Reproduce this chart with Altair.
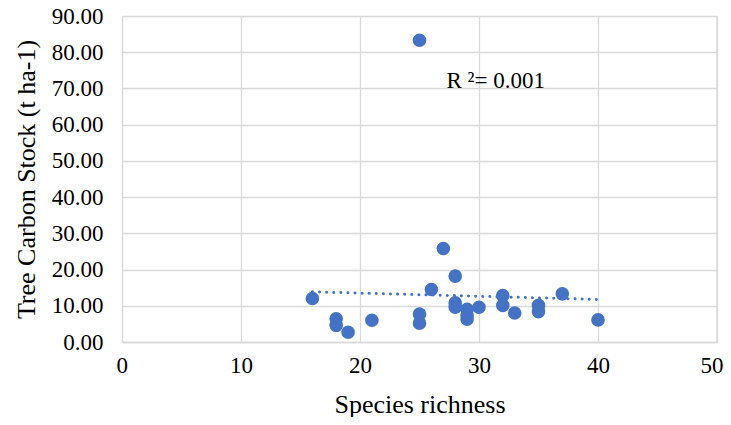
import altair as alt
import pandas as pd

richness = [16, 18, 18, 19, 21, 25, 25, 25, 26, 27, 28, 28, 28, 29, 29, 29, 30, 32, 32, 33, 35, 35, 37, 40]
carbon = [12.0, 6.4, 4.6, 2.7, 6.0, 83.3, 7.7, 5.2, 14.5, 25.8, 18.2, 10.8, 9.6, 9.0, 7.3, 6.3, 9.6, 12.8, 10.1, 8.0, 10.1, 8.4, 13.3, 6.1]

label_text = ["R ²= 0.001"]
label_x = [31.4]
label_y = [72.0]

df = pd.DataFrame({"x": richness, "y": carbon})
lab = pd.DataFrame({"x": label_x, "y": label_y, "t": label_text})

FONT = "Liberation Serif"
BLUE = "#4472C4"

xs = alt.Scale(domain=[0, 50], nice=False, zero=False)
ys = alt.Scale(domain=[0, 90], nice=False, zero=False)

xax = alt.Axis(values=[0, 10, 20, 30, 40, 50], title="Species richness", grid=True,
               gridColor="#D9D9D9", gridWidth=1.3, domainColor="#D9D9D9", domainWidth=1.3,
               ticks=False, labelFont=FONT, labelFontSize=23, labelColor="#000000",
               labelPadding=12, labelOverlap=False, labelFlush=True, labelFlushOffset=6,
               titleFont=FONT, titleFontSize=26, titleFontWeight="normal",
               titleColor="#000000", titlePadding=14)
yax = alt.Axis(values=list(range(0, 91, 10)), format=".2f", title="Tree Carbon Stock (t ha-1)",
               grid=True, gridColor="#D9D9D9", gridWidth=1.3, domain=False, ticks=False,
               labelFont=FONT, labelFontSize=23, labelColor="#000000", labelPadding=19,
               labelOverlap=False, labelFlush=False,
               titleFont=FONT, titleFontSize=26, titleFontWeight="normal", titleColor="#000000",
               titlePadding=12)

X = alt.X("x:Q", scale=xs, axis=xax)
Y = alt.Y("y:Q", scale=ys, axis=yax)

base = alt.Chart(df)

pts = base.mark_circle(size=185, color=BLUE, opacity=1).encode(x=X, y=Y)

trend = base.transform_regression("x", "y").mark_line(
    color=BLUE, strokeWidth=3, strokeDash=[0.1, 7], strokeCap="round"
).encode(x=X, y=Y)

txt = alt.Chart(lab).mark_text(font=FONT, fontSize=23, color="#000000").encode(
    x=X, y=Y, text="t:N"
)

right_grid = alt.Chart(pd.DataFrame({"x": [50]})).mark_rule(color="#D9D9D9", strokeWidth=1.3).encode(
    x=X
)

chart = alt.layer(right_grid, trend, pts, txt).properties(
    width=595, height=326,
    autosize=alt.AutoSizeParams(type="none"),
    padding={"left": 114, "top": 8, "right": 6, "bottom": 75},
).configure_view(stroke=None).configure(background="white")

chart.save("out.html", embed_options={"renderer": "svg", "actions": False})
